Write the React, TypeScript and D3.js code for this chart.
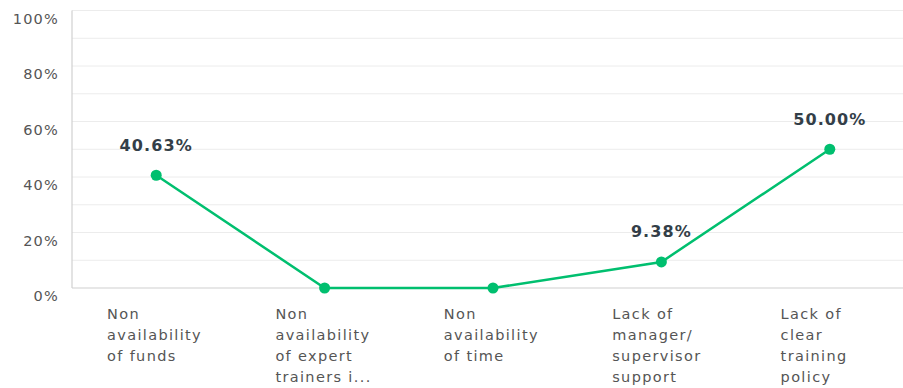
import React from "react";
import * as d3 from "d3";

const categories: string[][] = [
  ["Non", "availability", "of funds"],
  ["Non", "availability", "of expert", "trainers i..."],
  ["Non", "availability", "of time"],
  ["Lack of", "manager/", "supervisor", "support"],
  ["Lack of", "clear", "training", "policy"],
];
const values: number[] = [40.63, 0, 0, 9.38, 50.0];
const valueLabels: (string | null)[] = ["40.63%", null, null, "9.38%", "50.00%"];
const yTicks: number[] = [0, 20, 40, 60, 80, 100];
const gridTicks: number[] = [10, 20, 30, 40, 50, 60, 70, 80, 90, 100];

const W = 903;
const H = 388;
const left = 72;
const top = 10.5;
const bottom = 288;
const font = "'DejaVu Sans', sans-serif";

export default function App() {
  const x = d3
    .scaleBand<number>()
    .domain(values.map((_, i) => i))
    .range([left, 914]);
  const y = d3.scaleLinear().domain([0, 100]).range([bottom, top]);
  const line = d3
    .line<number>()
    .x((_, i) => (x(i) as number) + x.bandwidth() / 2)
    .y((d) => y(d));

  return (
    <svg
      width={W}
      height={H}
      style={{ position: "absolute", left: 0, top: 0, background: "#fff" }}
    >
      {gridTicks.map((t) => (
        <line key={t} x1={left} x2={W} y1={y(t)} y2={y(t)} stroke="#ececec" strokeWidth={1} />
      ))}
      <line x1={left} x2={left} y1={top} y2={bottom} stroke="#d0d0d0" strokeWidth={1.2} />
      <line x1={left} x2={W} y1={bottom} y2={bottom} stroke="#d0d0d0" strokeWidth={1.2} />
      {yTicks.map((t) => (
        <text
          key={t}
          x={59}
          y={y(t) + 9}
          textAnchor="end"
          dominantBaseline="middle"
          fontFamily={font}
          fontSize={14.5}
          letterSpacing={1.2}
          fill="#555"
        >
          {t}%
        </text>
      ))}
      <path d={line(values) || ""} fill="none" stroke="#00bf6f" strokeWidth={2.5} />
      {values.map((v, i) => (
        <circle
          key={i}
          cx={(x(i) as number) + x.bandwidth() / 2}
          cy={y(v)}
          r={5.5}
          fill="#00bf6f"
        />
      ))}
      {values.map((v, i) =>
        valueLabels[i] ? (
          <text
            key={i}
            x={(x(i) as number) + x.bandwidth() / 2}
            y={y(v) - 29}
            textAnchor="middle"
            dominantBaseline="middle"
            fontFamily={font}
            fontSize={16}
            fontWeight="bold"
            letterSpacing={1.1}
            fill="#333e48"
          >
            {valueLabels[i]}
          </text>
        ) : null
      )}
      {categories.map((lines, i) => (
        <text
          key={i}
          x={(x(i) as number) + 35}
          fontFamily={font}
          fontSize={14.5}
          letterSpacing={1.35}
          fill="#555"
        >
          {lines.map((l, j) => (
            <tspan key={j} x={(x(i) as number) + 35} y={315 + j * 21} dominantBaseline="middle">
              {l}
            </tspan>
          ))}
        </text>
      ))}
    </svg>
  );
}
